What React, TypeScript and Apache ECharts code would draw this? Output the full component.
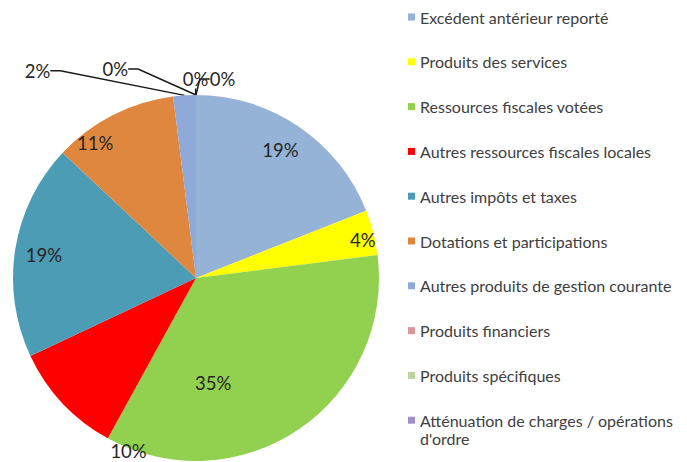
import React, { useEffect, useRef } from "react";
import * as echarts from "echarts";

const categories = [
  "Excédent antérieur reporté",
  "Produits des services",
  "Ressources fiscales votées",
  "Autres ressources fiscales locales",
  "Autres impôts et taxes",
  "Dotations et participations",
  "Autres produits de gestion courante",
  "Produits financiers",
  "Produits spécifiques",
  "Atténuation de charges / opérations d'ordre",
];
const values = [19, 4, 35, 10, 19, 11, 2, 0, 0, 0];
const colors = [
  "#95B3D7", "#FFFF00", "#92D050", "#FF0000", "#4B9CB4",
  "#E0873F", "#8FA9D9", "#D9979A", "#B8D49C", "#9E8FC8",
];
// label placement (polar: angle clockwise from 12 o'clock, fraction of radius)
const labelAngles = [33.3, 77.2, 170.7, 201.3, 278.6, 323.2, 322.6, 338.9, 359.9, 7.6];
const labelRadii = [0.84, 0.935, 0.58, 1.015, 0.84, 0.92, 1.425, 1.224, 1.087, 1.097];
const withLine = [false, false, false, false, false, false, true, true, true, true];

const W = 687;
const H = 462;
const CX = 196;
const CY = 278;
const R = 183;
const FONT = "Lato, 'Open Sans', sans-serif";

export default function App() {
  const ref = useRef<HTMLDivElement>(null);
  useEffect(() => {
    if (!ref.current) return;
    const chart = echarts.init(ref.current, undefined, { renderer: "svg" });
    const data = categories.map((name, i) => ({
      name,
      value: values[i],
      itemStyle: { color: colors[i] },
      label: { position: withLine[i] ? "outside" : "inside" },
      labelLine: { show: withLine[i], length: 10, length2: 10 },
    }));
    const legendText = {
      fontFamily: FONT,
      fontSize: 16,
      color: "#404040",
      lineHeight: 17,
    };
    chart.setOption({
      animation: false,
      backgroundColor: "#ffffff",
      legend: [
        {
          orient: "vertical",
          left: 408,
          top: 8.5,
          padding: 0,
          itemWidth: 7,
          itemHeight: 7,
          itemGap: 27.8,
          icon: "rect",
          textStyle: legendText,
          data: categories.slice(0, 9),
        },
        {
          orient: "vertical",
          left: 408,
          top: 393.2,
          padding: 0,
          itemWidth: 7,
          itemHeight: 7,
          icon: "rect",
          textStyle: { ...legendText, lineHeight: 18 },
          data: categories.slice(9),
          formatter: (n: string) => "\n" + n.replace(" d'ordre", "\nd'ordre"),
        },
      ],
      series: [
        {
          type: "pie",
          center: [CX, CY],
          radius: R,
          startAngle: 90,
          clockwise: true,
          avoidLabelOverlap: false,
          itemStyle: { borderWidth: 0 },
          emphasis: { disabled: true },
          label: {
            show: true,
            formatter: (p: any) => `${p.value}%`,
            fontFamily: FONT,
            fontSize: 18.5,
            color: "#262626",
          },
          labelLine: {
            lineStyle: { color: "#1a1a1a", width: 1.5 },
          },
          labelLayout: (p: any) => {
            const i = p.dataIndex;
            const a = (labelAngles[i] * Math.PI) / 180;
            return {
              x: CX + R * labelRadii[i] * Math.sin(a),
              y: CY - R * labelRadii[i] * Math.cos(a),
              align: "center",
              verticalAlign: "middle",
            };
          },
          data,
        },
      ],
    });
    return () => chart.dispose();
  }, []);
  return (
    <div
      ref={ref}
      style={{ position: "fixed", left: 0, top: 0, width: W, height: H }}
    />
  );
}
